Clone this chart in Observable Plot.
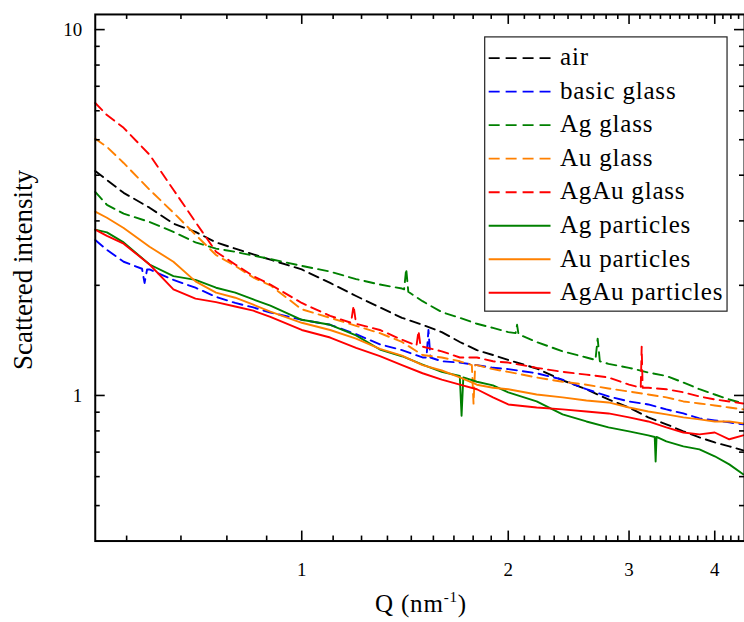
<!DOCTYPE html>
<html><head><meta charset="utf-8">
<script src="https://cdn.jsdelivr.net/npm/d3@7"></script>
<script src="https://cdn.jsdelivr.net/npm/@observablehq/plot@0.6"></script>
<style>
html,body{margin:0;padding:0;background:#fff}
#wrap{position:relative;width:744px;height:622px;overflow:hidden}
#wrap svg{display:block;position:absolute;left:0;top:0}
svg text{font-family:"Liberation Serif","Times New Roman",serif}
.lbl{position:absolute;white-space:nowrap;font-family:"Liberation Serif","Times New Roman",serif;color:#000;line-height:29px}
</style>
</head><body><div id="wrap"></div>
<script>
// ---- data ----
const Q = [0.5, 0.52, 0.55, 0.6, 0.65, 0.7, 0.75, 0.8, 0.85, 0.9, 1.0, 1.1, 1.2, 1.3, 1.4, 1.5, 1.6, 1.7, 1.8, 1.9, 2.0, 2.2, 2.4, 2.6, 2.8, 3.0, 3.2, 3.4, 3.6, 3.8, 4.0, 4.2, 4.4];

const air       = [4.11, 3.88, 3.58, 3.26, 2.95, 2.80, 2.62, 2.52, 2.43, 2.35, 2.21, 2.03, 1.87, 1.74, 1.63, 1.56, 1.49, 1.40, 1.33, 1.29, 1.25, 1.185, 1.10, 1.04, 0.975, 0.927, 0.871, 0.834, 0.798, 0.768, 0.744, 0.726, 0.708];
const basicGlass= [2.66, 2.50, 2.32, 2.21, 2.07, 1.97, 1.86, 1.79, 1.74, 1.685, 1.61, 1.56, 1.47, 1.38, 1.33, 1.27, 1.24, 1.23, 1.21, 1.19, 1.18, 1.15, 1.105, 1.04, 0.994, 0.963, 0.945, 0.916, 0.893, 0.866, 0.855, 0.844, 0.834];
const agGlass   = [3.60, 3.32, 3.14, 2.98, 2.80, 2.62, 2.52, 2.47, 2.41, 2.36, 2.26, 2.18, 2.08, 2.01, 1.96, 1.81, 1.69, 1.63, 1.57, 1.53, 1.49, 1.40, 1.32, 1.27, 1.22, 1.19, 1.155, 1.13, 1.085, 1.04, 1.006, 0.975, 0.951];
const auGlass   = [5.03, 4.78, 4.32, 3.65, 3.16, 2.75, 2.42, 2.26, 2.10, 2.00, 1.72, 1.63, 1.55, 1.48, 1.40, 1.29, 1.27, 1.24, 1.21, 1.18, 1.16, 1.12, 1.09, 1.07, 1.045, 1.025, 1.006, 0.988, 0.963, 0.951, 0.939, 0.927, 0.916];
const agauGlass = [6.30, 5.84, 5.39, 4.55, 3.65, 2.98, 2.47, 2.28, 2.12, 2.01, 1.79, 1.65, 1.57, 1.51, 1.42, 1.36, 1.32, 1.27, 1.27, 1.24, 1.23, 1.19, 1.16, 1.14, 1.12, 1.07, 1.05, 1.04, 1.02, 0.994, 0.975, 0.963, 0.951];
const agPart    = [2.84, 2.79, 2.62, 2.28, 2.12, 2.07, 1.97, 1.91, 1.83, 1.76, 1.61, 1.56, 1.46, 1.335, 1.28, 1.215, 1.16, 1.13, 1.09, 1.065, 1.02, 0.963, 0.888, 0.849, 0.818, 0.798, 0.778, 0.749, 0.726, 0.712, 0.682, 0.648, 0.609];
const auPart    = [3.18, 3.06, 2.87, 2.55, 2.32, 2.05, 1.91, 1.85, 1.77, 1.695, 1.58, 1.51, 1.43, 1.34, 1.285, 1.21, 1.17, 1.12, 1.07, 1.05, 1.04, 1.006, 0.988, 0.969, 0.957, 0.927, 0.904, 0.888, 0.871, 0.86, 0.849, 0.849, 0.839];
const agauPart  = [2.84, 2.73, 2.60, 2.28, 1.95, 1.84, 1.80, 1.75, 1.705, 1.64, 1.51, 1.44, 1.35, 1.28, 1.21, 1.15, 1.105, 1.07, 1.04, 0.988, 0.945, 0.927, 0.916, 0.904, 0.893, 0.871, 0.849, 0.818, 0.792, 0.783, 0.792, 0.759, 0.778];

// visible spikes (Q, intensity)
const airSpikes = [];
const basicSpikes = [[0.585, 2.22], [0.59, 2.03], [0.595, 2.21], [1.52, 1.27], [1.53, 1.51], [1.54, 1.27]];
const agGlassSpikes = [[1.41, 1.95], [1.42, 2.22], [1.43, 1.92], [2.05, 1.48], [2.06, 1.56], [2.07, 1.47], [2.68, 1.25], [2.70, 1.43], [2.72, 1.24]];
const auGlassSpikes = [[1.77, 1.21], [1.78, 0.95], [1.79, 1.21]];
const agauGlassSpikes = [[1.18, 1.58], [1.19, 1.76], [1.20, 1.57], [1.47, 1.37], [1.48, 1.50], [1.49, 1.36], [3.12, 1.05], [3.13, 1.36], [3.14, 1.05]];
const agPartSpikes = [[1.70, 1.12], [1.71, 0.88], [1.72, 1.12], [3.27, 0.77], [3.28, 0.66], [3.29, 0.77]];
const auPartSpikes = [];
const agauPartSpikes = [];

const seriesNames  = ["air", "basic glass", "Ag glass", "Au glass", "AgAu glass", "Ag particles", "Au particles", "AgAu particles"];
const seriesValues = [air, basicGlass, agGlass, auGlass, agauGlass, agPart, auPart, agauPart];
const seriesSpikes = [airSpikes, basicSpikes, agGlassSpikes, auGlassSpikes, agauGlassSpikes, agPartSpikes, auPartSpikes, agauPartSpikes];
const seriesColors = ["#000000", "#0000ff", "#008000", "#ff8000", "#ff0000", "#008000", "#ff8000", "#ff0000"];
const seriesDashed = [true, true, true, true, true, false, false, false];

const xMajor = [1, 2, 3, 4];
const yMajor = [1, 10];
const yMinor = [0.5, 0.6, 0.7, 0.8, 0.9, 2, 3, 4, 5, 6, 7, 8, 9];

// ---- layout ----
const FONT = "'Liberation Serif', 'Times New Roman', serif";
const W = 746, H = 622, ML = 95, MR = 0, MT = 14, MB = 80;
const IW = W - ML - MR, IH = H - MT - MB;
const xDomain = [0.5, 4.42], yDomain = [0.4, 11];
const xMinor = d3.range(0, 5).flatMap(k => d3.range(1, 9).map(j => k + j / 9)).filter(v => v > xDomain[0] && v < xDomain[1]);

const rows = [];
seriesNames.forEach((name, i) => {
  const pts = Q.map((q, j) => [q, seriesValues[i][j]]).concat(seriesSpikes[i]);
  pts.sort((a, b) => a[0] - b[0]);
  pts.forEach(([q, v]) => rows.push({series: name, i, q, v}));
});

const lineMarks = seriesNames.map((name, i) => Plot.line(rows.filter(r => r.i === i), {
  x: "q", y: "v", stroke: seriesColors[i], strokeWidth: 1.9,
  strokeDasharray: seriesDashed[i] ? "10,6" : null
}));

const tk = {stroke: "#000", strokeWidth: 1.6};
const plot = Plot.plot({
  width: W, height: H,
  marginLeft: ML, marginRight: MR, marginTop: MT, marginBottom: MB,
  style: `font-family: ${FONT}; background: #fff; color: #000;`,
  x: {type: "log", domain: xDomain},
  y: {type: "log", domain: yDomain},
  marks: [
    ...lineMarks,
    Plot.ruleX(xMajor, {...tk, insetTop: IH - 10}),
    Plot.ruleX(xMinor, {...tk, insetTop: IH - 5}),
    Plot.ruleX(xMajor, {...tk, insetBottom: IH - 10}),
    Plot.ruleX(xMinor, {...tk, insetBottom: IH - 5}),
    Plot.ruleY(yMajor, {...tk, insetRight: IW - 10}),
    Plot.ruleY(yMinor, {...tk, insetRight: IW - 5}),
    Plot.ruleY(yMajor, {...tk, insetLeft: IW - 10}),
    Plot.ruleY(yMinor, {...tk, insetLeft: IW - 5}),
    Plot.axisX(xMajor, {anchor: "bottom", tickSize: 0, tickPadding: 22, fontSize: 19, label: null, tickFormat: d => `${d}`}),
    Plot.axisY(yMajor, {anchor: "left", tickSize: 0, tickPadding: 13, fontSize: 19, label: null, tickFormat: d => `${d}`}),
    Plot.frame({stroke: "#000", strokeWidth: 2})
  ]
});
plot.setAttribute("font-family", FONT);
const wrap = document.getElementById("wrap");
wrap.appendChild(plot);

const svg = d3.select(plot);
const overlay = d3.select(wrap);

// legend box and samples (SVG), labels (HTML text on top)
const lg = svg.append("g");
lg.append("rect").attr("x", 486).attr("y", 37).attr("width", 243).attr("height", 275)
  .attr("fill", "#fff").attr("stroke", "#222").attr("stroke-width", 1.2);
seriesNames.forEach((name, i) => {
  const yc = 58.3 + i * 33.6;
  lg.append("line").attr("x1", 490).attr("x2", 552).attr("y1", yc).attr("y2", yc)
    .attr("stroke", seriesColors[i]).attr("stroke-width", 1.9)
    .attr("stroke-dasharray", seriesDashed[i] ? "11,6" : null);
  overlay.append("div").attr("class", "lbl")
    .style("left", "560px").style("top", `${65 + i * 33.6 - 23}px`)
    .style("font-size", "25px").style("letter-spacing", "0.8px")
    .text(name);
});

// axis titles (HTML text)
overlay.append("div").attr("class", "lbl")
  .style("left", "23px").style("top", "270px").style("font-size", "27px")
  .style("line-height", "31px")
  .style("transform", "translate(-50%,-50%) rotate(-90deg)")
  .text("Scattered intensity");

const xt = overlay.append("div").attr("class", "lbl")
  .style("left", "421px").style("top", "589px").style("font-size", "25px")
  .style("letter-spacing", "0.8px").style("transform", "translateX(-50%)");
xt.append("span").text("Q (nm");
xt.append("span").style("font-size", "15px").style("position", "relative").style("top", "-10px").text("-1");
xt.append("span").text(")");
</script>
</body></html>
